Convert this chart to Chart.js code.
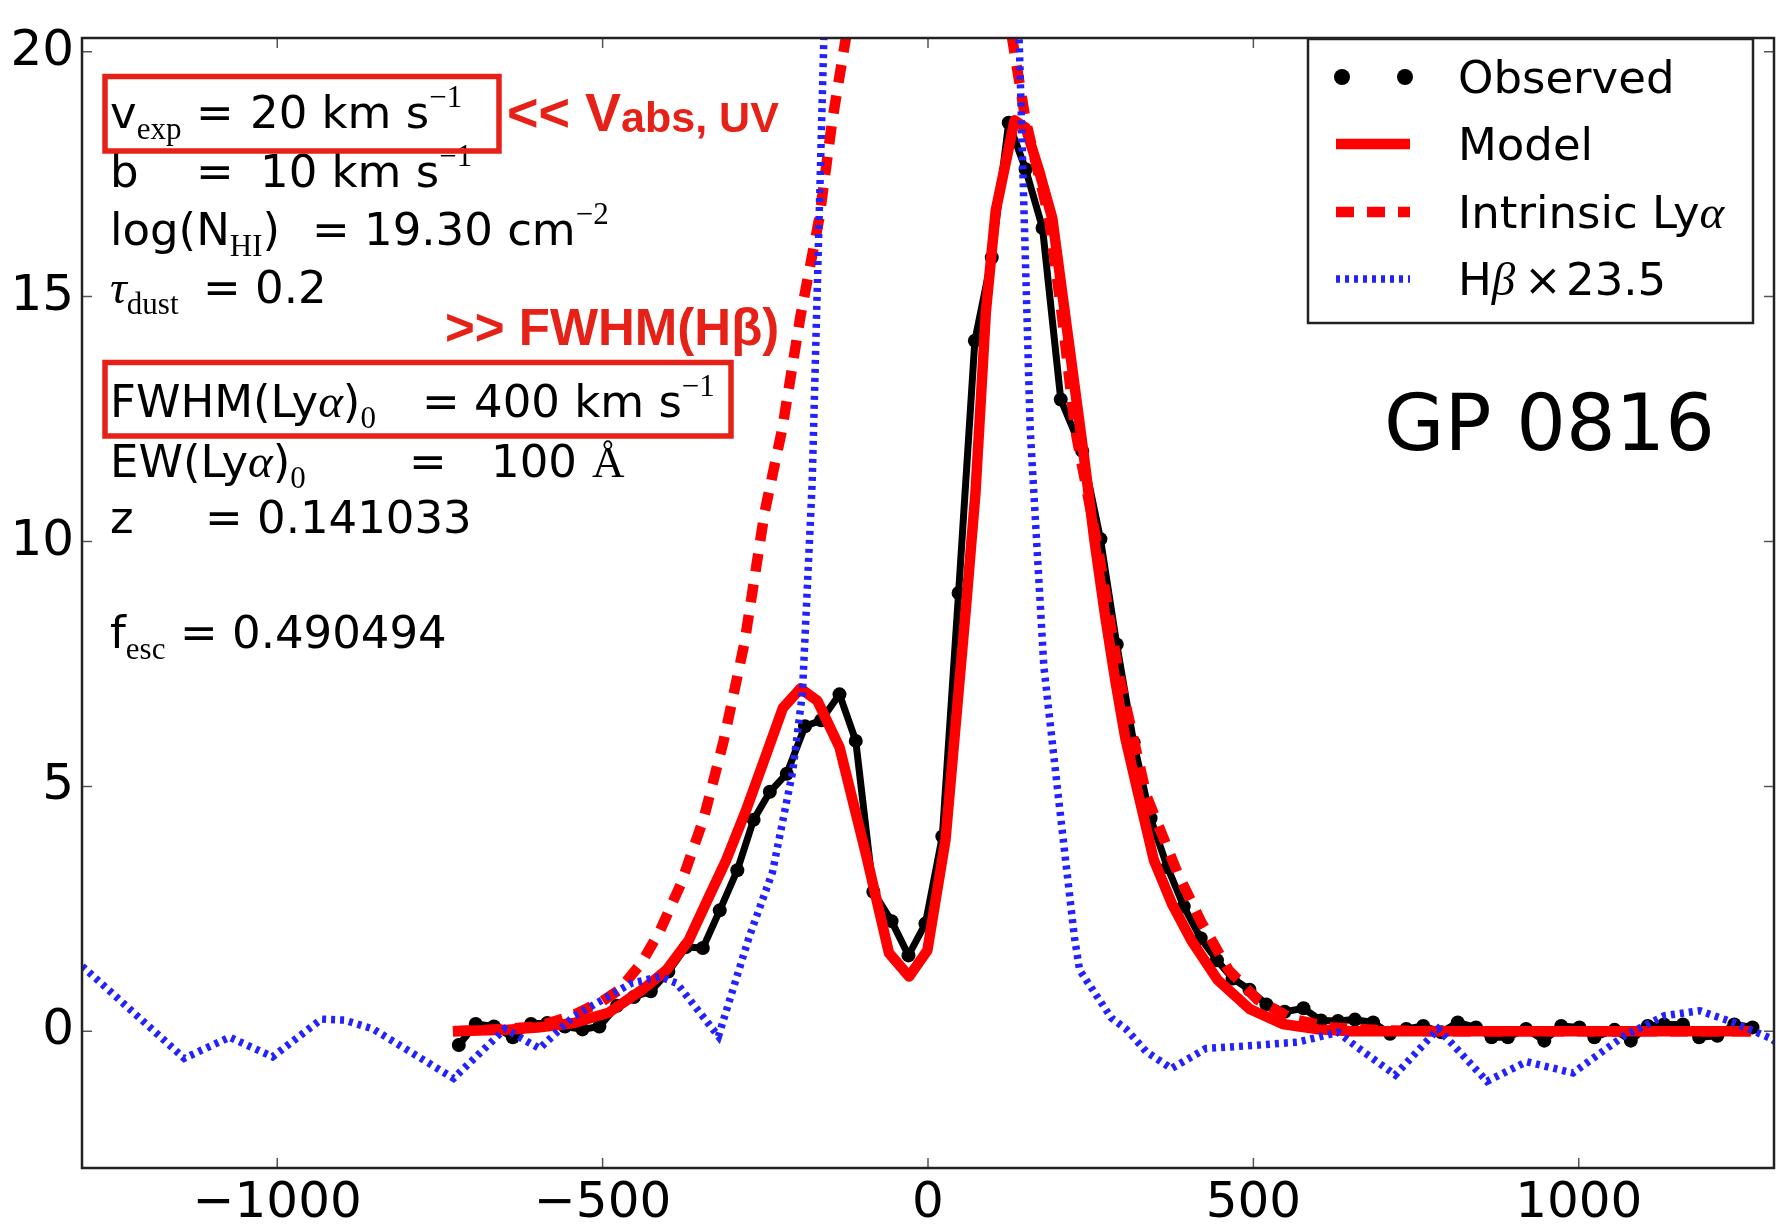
<!DOCTYPE html>
<html>
<head>
  <meta charset="utf-8">
  <title>GP 0816 Lyα profile</title>
  <script src="https://cdn.jsdelivr.net/npm/chart.js"></script>
  <style>
    html, body { margin: 0; padding: 0; background: #fff; }
    #wrap { position: relative; width: 1781px; height: 1224px; }
  </style>
</head>
<body>
<div id="wrap"><canvas id="spec"></canvas></div>

<script>
  // velocity offsets (km/s) and flux for every curve
  const obsVel = [-721, -695, -667, -638, -610, -585, -558, -531, -505, -478, -452, -426, -399, -372, -346, -320,
    -293, -268, -243, -217, -189, -164, -136, -111, -84, -56, -30, -4, 22, 47, 72, 98, 124, 150, 176, 204,
    237, 265, 290, 316, 342, 368, 393, 419, 444, 468, 494, 520, 548, 577, 604, 630, 656, 684, 710, 735,
    761, 789, 814, 842, 866, 891, 919, 947, 973, 1001, 1024, 1055, 1080, 1106, 1131, 1160, 1185, 1213, 1239, 1267];
  const obsFlux = [-0.28, 0.15, 0.10, -0.12, 0.15, 0.17, 0.10, 0.04, 0.10, 0.52, 0.70, 0.82, 1.22, 1.72, 1.70, 2.47,
    3.29, 4.32, 4.89, 5.26, 6.23, 6.35, 6.88, 5.93, 2.85, 2.25, 1.55, 2.20, 3.98, 8.95, 14.1, 15.8, 18.55, 17.6, 16.4, 12.9,
    11.85, 10.05, 7.9, 5.9, 4.35, 3.35, 2.55, 1.9, 1.45, 1.08, 0.85, 0.55, 0.40, 0.47, 0.22, 0.21, 0.24, 0.18, -0.05, 0.05,
    0.11, -0.02, 0.18, 0.08, -0.12, -0.12, 0.05, -0.19, 0.11, 0.08, -0.12, 0.03, -0.19, 0.11, 0.14, 0.14, -0.12, -0.09, 0.14, 0.08];

  const modelVel = [-730, -650, -600, -544, -491, -439, -402, -368, -340, -310, -280, -250, -223, -196, -170, -136,
    -95, -60, -29, -1, 27, 58, 73, 89, 104, 133, 150, 170, 191, 216, 240, 256, 272, 288, 303, 324, 347, 375,
    405, 445, 495, 545, 600, 650, 800, 1000, 1265];
  const modelFlux = [0.0, 0.03, 0.08, 0.17, 0.38, 0.85, 1.25, 1.85, 2.65, 3.5, 4.5, 5.6, 6.6, 7.0, 6.75, 5.8,
    3.6, 1.6, 1.12, 1.65, 3.92, 8.6, 11.0, 14.7, 16.75, 18.6, 18.45, 17.6, 16.6, 14.1, 11.7, 10.0, 8.5, 7.15, 6.0, 4.8, 3.5, 2.6,
    1.85, 1.05, 0.45, 0.15, 0.04, 0.0, 0.0, 0.0, 0.0];

  const intrVel = [-730, -650, -600, -550, -500, -474, -440, -412, -380, -345, -314, -282, -251, -224, -196, -167,
    -147, -126, -90, -45, 0, 45, 90, 129, 150, 186, 206, 226, 262, 293, 336, 383, 419, 462, 506, 560, 620, 700, 800, 1265];
  const intrFlux = [0.0, 0.05, 0.1, 0.3, 0.62, 0.85, 1.4, 2.05, 3.0, 4.33, 5.93, 7.93, 10.6, 12.3, 14.6, 16.6,
    18.6, 20.3, 22.9, 24.8, 25.5, 24.8, 22.9, 20.3, 18.6, 16.6, 14.6, 12.3, 9.8, 7.3, 4.8, 3.25, 2.25, 1.25, 0.65, 0.25, 0.08, 0.02, 0.0, 0.0];

  // H-beta profile scaled by 23.5
  const hbVel = [-1310, -1293, -1143, -1073, -1007, -932, -897, -853, -729, -650, -597, -544, -456, -412, -386, -322,
    -275, -239, -208, -193, -178, -160, -145, -100, -50, 0, 50, 100, 125, 140, 157, 178, 202, 225, 233, 282, 304,
    335, 374, 427, 498, 568, 630, 657, 718, 784, 859, 920, 991, 1071, 1132, 1186, 1238, 1296, 1310];
  const hbFlux = [1.45, 1.25, -0.55, -0.12, -0.52, 0.25, 0.23, 0.05, -0.96, 0.05, -0.35, 0.31, 0.98, 1.12, 0.98, -0.10,
    1.92, 3.25, 5.3, 6.9, 11.2, 20.3, 30, 48, 58, 60, 57, 42, 30, 20.3, 12.3, 7.45, 4.59, 1.92, 1.25, 0.27, 0.05,
    -0.41, -0.76, -0.35, -0.29, -0.22, -0.02, -0.3, -0.89, 0.05, -1.02, -0.62, -0.85, -0.08, 0.32, 0.42, 0.18, -0.15, -0.3];

  const xTickVals = [-1000, -500, 0, 500, 1000];
  const yTickVals = [0, 5, 10, 15, 20];
  const xRange = [-1300, 1300];
  const yRange = [-2.79, 20.28];

  const SANS = '"DejaVu Sans", sans-serif';
  const SERIF = '"Liberation Serif", "DejaVu Serif", serif';
  const BOLD = '"Liberation Sans", Arial, sans-serif';
  const RED_NOTE = '#e62117';

  const pairs = (xs, ys) => xs.map((x, i) => ({ x, y: ys[i] }));
  const minus = v => v < 0 ? '\u2212' + Math.abs(v) : String(v);

  // text pieces: plain, subscript, superscript, greek
  const T = (t, at) => ({ t, font: '45px ' + SANS, dy: 0, at });
  const SUB = t => ({ t, font: '31px ' + SERIF, dy: 11 });
  const SUP = t => ({ t, font: '31px ' + SERIF, dy: -21 });
  const GR = t => ({ t, font: 'italic 47px ' + SERIF, dy: 0 });

  function drawRuns(ctx, x, y, parts) {
    for (const p of parts) {
      if (p.at !== undefined) x = p.at;
      ctx.font = p.font;
      ctx.fillText(p.t, x, y + p.dy);
      x += ctx.measureText(p.t).width;
    }
  }

  const paramLines = [
    [128, [T('v'), SUB('exp'), T('=', 196), T('20 km s', 250), SUP('\u22121')]],
    [187, [T('b'), T('=', 196), T('10 km s', 260), SUP('\u22121')]],
    [245, [T('log(N'), SUB('HI'), T(')'), T('=', 312), T('19.30 cm', 364), SUP('\u22122')]],
    [303, [GR('\u03c4'), SUB('dust'), T('=', 203), T('0.2', 255)]],
    [417, [T('FWHM(Ly'), GR('\u03b1'), T(')'), SUB('0'), T('=', 422), T('400 km s', 474), SUP('\u22121')]],
    [477, [T('EW(Ly'), GR('\u03b1'), T(')'), SUB('0'), T('=', 409), T('100', 491), { t: '\u00c5', font: '45px ' + SERIF, dy: 0, at: 592 }]],
    [533, [T('z'), T('=', 205), T('0.141033', 257)]],
    [648, [T('f'), SUB('esc'), T('=', 180), T('0.490494', 232)]]
  ];

  const legendLabels = [
    [T('Observed')],
    [T('Model')],
    [T('Intrinsic Ly'), GR('\u03b1')],
    [T('H'), GR('\u03b2'), T('\u00d7', 1524), T('23.5', 1566)]
  ];

  const decorations = {
    id: 'decorations',
    afterDatasetsDraw(chart) {
      const { ctx, chartArea: a, scales: { x, y } } = chart;
      ctx.save();

      // inward ticks on all four sides
      ctx.strokeStyle = '#555';
      ctx.lineWidth = 1.5;
      ctx.beginPath();
      for (const v of xTickVals) {
        const px = x.getPixelForValue(v);
        ctx.moveTo(px, a.bottom); ctx.lineTo(px, a.bottom - 10);
        ctx.moveTo(px, a.top); ctx.lineTo(px, a.top + 10);
      }
      for (const v of yTickVals) {
        const py = y.getPixelForValue(v);
        ctx.moveTo(a.left, py); ctx.lineTo(a.left + 10, py);
        ctx.moveTo(a.right, py); ctx.lineTo(a.right - 10, py);
      }
      ctx.stroke();
      ctx.strokeStyle = '#222';
      ctx.lineWidth = 2.5;
      ctx.strokeRect(a.left, a.top, a.width, a.height);

      // fit parameters
      ctx.fillStyle = '#000';
      ctx.textBaseline = 'alphabetic';
      ctx.textAlign = 'left';
      for (const [base, parts] of paramLines) drawRuns(ctx, 110, base, parts);

      ctx.font = '78px ' + SANS;
      ctx.fillText('GP 0816', 1384, 450);

      // red call-outs
      ctx.strokeStyle = RED_NOTE;
      ctx.lineWidth = 5.5;
      ctx.strokeRect(105, 76.5, 394, 74.5);
      ctx.strokeRect(105, 362.5, 626, 73.5);
      ctx.fillStyle = RED_NOTE;
      drawRuns(ctx, 507, 131, [
        { t: '<< V', font: 'bold 54px ' + BOLD, dy: 0 },
        { t: 'abs, UV', font: 'bold 43px ' + BOLD, dy: 1 }
      ]);
      ctx.font = 'bold 51px ' + BOLD;
      ctx.fillText('>> FWHM(H\u03b2)', 445, 345);

      // legend
      const lx = 1308, ly = 39, lw = 445, lh = 284;
      ctx.fillStyle = '#fff';
      ctx.fillRect(lx, ly, lw, lh);
      ctx.strokeStyle = '#222';
      ctx.lineWidth = 2.5;
      ctx.strokeRect(lx, ly, lw, lh);
      const sets = chart.data.datasets;
      const rowBase = [93, 160, 228, 295];
      sets.forEach((ds, i) => {
        const hy = rowBase[i] - 16;
        ctx.save();
        if (i === 0) {
          ctx.fillStyle = ds.pointBackgroundColor;
          for (const hx of [1342, 1405]) {
            ctx.beginPath(); ctx.arc(hx, hy, 8, 0, Math.PI * 2); ctx.fill();
          }
        } else {
          ctx.strokeStyle = ds.borderColor;
          ctx.lineWidth = ds.borderWidth;
          ctx.setLineDash(ds.borderDash || []);
          ctx.beginPath(); ctx.moveTo(1336, hy); ctx.lineTo(1410, hy); ctx.stroke();
        }
        ctx.restore();
        ctx.fillStyle = '#000';
        drawRuns(ctx, 1458, rowBase[i], legendLabels[i]);
      });

      ctx.restore();
    }
  };

  const tickFont = { family: 'DejaVu Sans', size: 50 };

  new Chart(document.getElementById('spec'), {
    type: 'line',
    data: {
      datasets: [
        {
          label: 'Observed', data: pairs(obsVel, obsFlux),
          borderColor: '#000', borderWidth: 7, borderJoinStyle: 'round',
          pointRadius: 7, pointBorderWidth: 0, pointBackgroundColor: '#000',
          order: 3
        },
        {
          label: 'Model', data: pairs(modelVel, modelFlux),
          borderColor: '#ff0000', borderWidth: 10.5, borderJoinStyle: 'round',
          pointRadius: 0, order: 2
        },
        {
          label: 'Intrinsic Ly\u03b1', data: pairs(intrVel, intrFlux),
          borderColor: '#ff0000', borderWidth: 10.5, borderDash: [18, 13],
          pointRadius: 0, order: 1, clip: 0
        },
        {
          label: 'H\u03b2 \u00d7 23.5', data: pairs(hbVel, hbFlux),
          borderColor: '#2222ff', borderWidth: 7.5, borderDash: [4, 5],
          pointRadius: 0, order: 0, clip: 0
        }
      ]
    },
    options: {
      responsive: true,
      maintainAspectRatio: false,
      animation: false,
      devicePixelRatio: 1,
      layout: { padding: { top: 17, right: 4, left: 0, bottom: 0 } },
      plugins: { legend: { display: false }, tooltip: { enabled: false } },
      scales: {
        x: {
          type: 'linear', min: xRange[0], max: xRange[1],
          afterBuildTicks: ax => { ax.ticks = xTickVals.map(v => ({ value: v })); },
          afterFit: ax => { ax.height = 56; },
          grid: { display: false, drawTicks: false },
          border: { display: false },
          ticks: { callback: minus, color: '#000', font: tickFont, padding: 6, maxRotation: 0, autoSkip: false }
        },
        y: {
          type: 'linear', min: yRange[0], max: yRange[1],
          afterBuildTicks: ax => { ax.ticks = yTickVals.map(v => ({ value: v })); },
          afterFit: ax => { ax.width = 82; },
          grid: { display: false, drawTicks: false },
          border: { display: false },
          ticks: { callback: minus, color: '#000', font: tickFont, padding: 8, autoSkip: false }
        }
      }
    },
    plugins: [decorations]
  });
</script>
</body>
</html>
